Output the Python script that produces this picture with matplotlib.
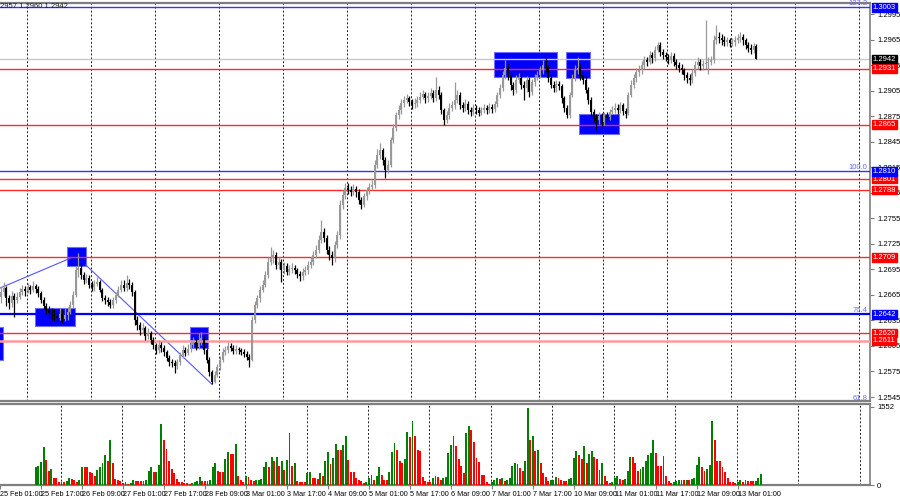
import numpy as np
import matplotlib.pyplot as plt
from matplotlib.patches import Rectangle
from matplotlib.transforms import blended_transform_factory

plt.rcParams['font.family'] = ['Liberation Sans', 'DejaVu Sans']

# GBPUSD H1, 25 Feb 15:00 .. 13 Mar 10:00 (open of each bar = previous close)
first_open = 1.2662
closes = [
    1.2668, 1.2673, 1.2661, 1.2655, 1.2664, 1.2659, 1.2663, 1.2668, 1.2672, 1.2670,
    1.2674, 1.2671, 1.2675, 1.2672, 1.2667, 1.2659, 1.2652, 1.2647, 1.2644, 1.2641,
    1.2640, 1.2638, 1.2643, 1.2637, 1.2641, 1.2645, 1.2653, 1.2665, 1.2694, 1.2697,
    1.2688, 1.2683, 1.2685, 1.2677, 1.2674, 1.2678, 1.2680, 1.2671, 1.2661, 1.2659,
    1.2657, 1.2653, 1.2659, 1.2665, 1.2671, 1.2677, 1.2673, 1.2679, 1.2677, 1.2668,
    1.2636, 1.2630, 1.2624, 1.2626, 1.2617, 1.2620, 1.2612, 1.2606, 1.2600, 1.2606,
    1.2603, 1.2598, 1.2591, 1.2586, 1.2585, 1.2581, 1.2586, 1.2594, 1.2600, 1.2597,
    1.2601, 1.2606, 1.2610, 1.2604, 1.2612, 1.2614, 1.2600, 1.2589, 1.2574, 1.2563,
    1.2571, 1.2580, 1.2589, 1.2598, 1.2600, 1.2605, 1.2603, 1.2599, 1.2601, 1.2600,
    1.2598, 1.2596, 1.2592, 1.2589, 1.2636, 1.2653, 1.2661, 1.2671, 1.2677, 1.2688,
    1.2704, 1.2708, 1.2712, 1.2700, 1.2704, 1.2694, 1.2699, 1.2692, 1.2695, 1.2697,
    1.2694, 1.2690, 1.2687, 1.2692, 1.2694, 1.2700, 1.2704, 1.2712, 1.2718, 1.2730,
    1.2739, 1.2732, 1.2718, 1.2712, 1.2708, 1.2724, 1.2735, 1.2771, 1.2782, 1.2791,
    1.2788, 1.2786, 1.2789, 1.2786, 1.2777, 1.2771, 1.2781, 1.2788, 1.2792, 1.2794,
    1.2818, 1.2829, 1.2835, 1.2824, 1.2812, 1.2818, 1.2847, 1.2861, 1.2876, 1.2882,
    1.2890, 1.2894, 1.2896, 1.2892, 1.2889, 1.2890, 1.2894, 1.2898, 1.2901, 1.2896,
    1.2899, 1.2902, 1.2896, 1.2906, 1.2900, 1.2882, 1.2871, 1.2876, 1.2885, 1.2888,
    1.2894, 1.2900, 1.2888, 1.2885, 1.2889, 1.2882, 1.2880, 1.2885, 1.2882, 1.2879,
    1.2882, 1.2885, 1.2882, 1.2886, 1.2883, 1.2889, 1.2900, 1.2908, 1.2923, 1.2932,
    1.2923, 1.2912, 1.2906, 1.2918, 1.2920, 1.2912, 1.2908, 1.2918, 1.2903, 1.2915,
    1.2920, 1.2923, 1.2929, 1.2935, 1.2932, 1.2920, 1.2912, 1.2908, 1.2913, 1.2910,
    1.2896, 1.2885, 1.2876, 1.2900, 1.2920, 1.2929, 1.2932, 1.2923, 1.2918, 1.2906,
    1.2894, 1.2880, 1.2873, 1.2871, 1.2875, 1.2868, 1.2876, 1.2874, 1.2880, 1.2882,
    1.2885, 1.2882, 1.2888, 1.2881, 1.2878, 1.2900, 1.2912, 1.2920, 1.2927, 1.2929,
    1.2935, 1.2941, 1.2939, 1.2947, 1.2943, 1.2953, 1.2959, 1.2950, 1.2947, 1.2945,
    1.2941, 1.2946, 1.2939, 1.2935, 1.2932, 1.2929, 1.2923, 1.2920, 1.2918, 1.2926,
    1.2935, 1.2939, 1.2934, 1.2936, 1.2937, 1.2939, 1.2941, 1.2964, 1.2968, 1.2967,
    1.2964, 1.2962, 1.2964, 1.2961, 1.2962, 1.2964, 1.2967, 1.2968, 1.2964, 1.2959,
    1.2955, 1.2953, 1.2957, 1.2942,
]
highs = [
    1.2675, 1.2680, 1.2676, 1.2665, 1.2669, 1.2667, 1.2668, 1.2673, 1.2677, 1.2676,
    1.2679, 1.2677, 1.2681, 1.2678, 1.2675, 1.2669, 1.2662, 1.2655, 1.2652, 1.2650,
    1.2648, 1.2645, 1.2650, 1.2648, 1.2649, 1.2651, 1.2658, 1.2669, 1.2699, 1.2714,
    1.2702, 1.2692, 1.2690, 1.2688, 1.2681, 1.2683, 1.2686, 1.2683, 1.2673, 1.2665,
    1.2663, 1.2660, 1.2663, 1.2668, 1.2675, 1.2682, 1.2683, 1.2688, 1.2684, 1.2680,
    1.2671, 1.2640, 1.2633, 1.2632, 1.2629, 1.2626, 1.2623, 1.2615, 1.2609, 1.2612,
    1.2610, 1.2606, 1.2600, 1.2594, 1.2590, 1.2588, 1.2590, 1.2598, 1.2606, 1.2604,
    1.2607, 1.2611, 1.2615, 1.2613, 1.2620, 1.2621, 1.2617, 1.2603, 1.2592, 1.2577,
    1.2575, 1.2584, 1.2593, 1.2602, 1.2605, 1.2610, 1.2609, 1.2606, 1.2606, 1.2604,
    1.2603, 1.2601, 1.2599, 1.2595, 1.2640, 1.2658, 1.2665, 1.2676, 1.2682, 1.2693,
    1.2709, 1.2721, 1.2718, 1.2715, 1.2709, 1.2707, 1.2704, 1.2702, 1.2700, 1.2702,
    1.2700, 1.2697, 1.2693, 1.2697, 1.2699, 1.2705, 1.2710, 1.2716, 1.2724, 1.2735,
    1.2753, 1.2744, 1.2735, 1.2722, 1.2716, 1.2728, 1.2740, 1.2776, 1.2788, 1.2797,
    1.2796, 1.2793, 1.2795, 1.2793, 1.2789, 1.2780, 1.2785, 1.2792, 1.2797, 1.2800,
    1.2823, 1.2836, 1.2843, 1.2838, 1.2827, 1.2824, 1.2851, 1.2866, 1.2880, 1.2888,
    1.2895, 1.2899, 1.2901, 1.2899, 1.2895, 1.2896, 1.2899, 1.2903, 1.2906, 1.2904,
    1.2904, 1.2908, 1.2906, 1.2921, 1.2910, 1.2903, 1.2885, 1.2881, 1.2890, 1.2893,
    1.2915, 1.2906, 1.2903, 1.2892, 1.2895, 1.2893, 1.2886, 1.2889, 1.2888, 1.2886,
    1.2886, 1.2889, 1.2888, 1.2890, 1.2889, 1.2893, 1.2904, 1.2913, 1.2928, 1.2941,
    1.2936, 1.2927, 1.2915, 1.2923, 1.2926, 1.2924, 1.2916, 1.2922, 1.2921, 1.2919,
    1.2924, 1.2928, 1.2934, 1.2941, 1.2943, 1.2935, 1.2923, 1.2916, 1.2917, 1.2916,
    1.2913, 1.2899, 1.2888, 1.2904, 1.2925, 1.2935, 1.2944, 1.2936, 1.2927, 1.2921,
    1.2909, 1.2897, 1.2884, 1.2878, 1.2880, 1.2879, 1.2880, 1.2880, 1.2884, 1.2887,
    1.2890, 1.2889, 1.2892, 1.2891, 1.2885, 1.2904, 1.2917, 1.2925, 1.2932, 1.2935,
    1.2940, 1.2946, 1.2945, 1.2952, 1.2951, 1.2958, 1.2962, 1.2962, 1.2954, 1.2951,
    1.2948, 1.2950, 1.2949, 1.2942, 1.2939, 1.2936, 1.2932, 1.2927, 1.2925, 1.2930,
    1.2940, 1.2944, 1.2942, 1.2941, 1.2988, 1.2944, 1.2946, 1.2970, 1.2982, 1.2974,
    1.2972, 1.2969, 1.2968, 1.2967, 1.2967, 1.2969, 1.2972, 1.2974, 1.2971, 1.2967,
    1.2962, 1.2960, 1.2961, 1.2960,
]
lows = [
    1.2655, 1.2664, 1.2652, 1.2648, 1.2651, 1.2639, 1.2655, 1.2660, 1.2665, 1.2664,
    1.2667, 1.2666, 1.2668, 1.2667, 1.2662, 1.2655, 1.2648, 1.2642, 1.2638, 1.2635,
    1.2634, 1.2633, 1.2635, 1.2632, 1.2634, 1.2636, 1.2642, 1.2650, 1.2662, 1.2686,
    1.2684, 1.2678, 1.2679, 1.2673, 1.2669, 1.2670, 1.2675, 1.2668, 1.2658, 1.2654,
    1.2652, 1.2649, 1.2650, 1.2656, 1.2662, 1.2668, 1.2669, 1.2670, 1.2672, 1.2664,
    1.2630, 1.2624, 1.2618, 1.2620, 1.2612, 1.2613, 1.2607, 1.2601, 1.2595, 1.2597,
    1.2598, 1.2593, 1.2587, 1.2582, 1.2580, 1.2573, 1.2578, 1.2583, 1.2591, 1.2593,
    1.2594, 1.2598, 1.2603, 1.2600, 1.2601, 1.2606, 1.2596, 1.2585, 1.2570, 1.2560,
    1.2561, 1.2568, 1.2577, 1.2586, 1.2594, 1.2597, 1.2599, 1.2595, 1.2596, 1.2596,
    1.2594, 1.2592, 1.2588, 1.2580, 1.2587, 1.2632, 1.2649, 1.2657, 1.2668, 1.2674,
    1.2685, 1.2700, 1.2703, 1.2695, 1.2696, 1.2680, 1.2690, 1.2688, 1.2688, 1.2691,
    1.2689, 1.2685, 1.2681, 1.2683, 1.2688, 1.2690, 1.2697, 1.2700, 1.2708, 1.2714,
    1.2726, 1.2727, 1.2713, 1.2706, 1.2700, 1.2704, 1.2720, 1.2731, 1.2766, 1.2778,
    1.2783, 1.2781, 1.2782, 1.2780, 1.2772, 1.2766, 1.2768, 1.2777, 1.2784, 1.2788,
    1.2791, 1.2814, 1.2825, 1.2818, 1.2802, 1.2808, 1.2815, 1.2843, 1.2857, 1.2872,
    1.2877, 1.2886, 1.2890, 1.2887, 1.2884, 1.2885, 1.2886, 1.2890, 1.2895, 1.2891,
    1.2892, 1.2895, 1.2892, 1.2893, 1.2895, 1.2877, 1.2865, 1.2867, 1.2872, 1.2881,
    1.2884, 1.2890, 1.2884, 1.2880, 1.2881, 1.2877, 1.2875, 1.2876, 1.2878, 1.2875,
    1.2876, 1.2879, 1.2878, 1.2879, 1.2879, 1.2880, 1.2886, 1.2896, 1.2905, 1.2919,
    1.2918, 1.2906, 1.2900, 1.2902, 1.2914, 1.2907, 1.2894, 1.2904, 1.2898, 1.2900,
    1.2911, 1.2917, 1.2920, 1.2925, 1.2927, 1.2915, 1.2908, 1.2904, 1.2904, 1.2906,
    1.2891, 1.2880, 1.2873, 1.2873, 1.2897, 1.2916, 1.2925, 1.2918, 1.2913, 1.2902,
    1.2889, 1.2875, 1.2868, 1.2859, 1.2866, 1.2863, 1.2865, 1.2869, 1.2871, 1.2877,
    1.2879, 1.2878, 1.2879, 1.2876, 1.2873, 1.2876, 1.2897, 1.2908, 1.2915, 1.2922,
    1.2925, 1.2931, 1.2934, 1.2936, 1.2938, 1.2940, 1.2950, 1.2946, 1.2942, 1.2940,
    1.2936, 1.2937, 1.2934, 1.2930, 1.2927, 1.2924, 1.2918, 1.2914, 1.2912, 1.2914,
    1.2922, 1.2930, 1.2929, 1.2929, 1.2931, 1.2925, 1.2935, 1.2938, 1.2960, 1.2961,
    1.2959, 1.2957, 1.2958, 1.2956, 1.2957, 1.2958, 1.2961, 1.2962, 1.2959, 1.2954,
    1.2950, 1.2948, 1.2949, 1.2942,
]
volumes = [
    353, 386, 466, 753, 500, 286, 320, 140, 133, 53,
    66, 66, 73, 140, 120, 107, 66, 107,
    366, 353, 353, 266, 233, 186, 300, 366, 433, 600, 486,
    886,
    440, 120, 100, 86, 33, 53, 20,
    33, 100, 86, 86, 86, 86, 100, 286, 366, 253, 260, 406, 1205,
    886, 720, 486, 320, 233, 120, 66, 53, 33,
    33, 20, 40,
    53, 86, 153, 86, 73, 86, 100, 366, 433, 286, 266, 253, 520, 653, 620, 620,
    820,
    186, 100, 53,
    186, 166, 100, 86, 100, 107, 120, 353, 453, 353, 553, 486, 566, 380, 486, 300, 500,
    1040,
    386, 433, 86, 66, 53, 53, 233, 253, 140, 133, 120, 233, 186,
    486, 653, 420, 533, 820, 686, 686, 786, 966, 500, 266, 253, 140,
    100, 86, 40, 66, 133, 200,
    100, 186, 353, 206, 100, 100, 253, 653, 840, 700, 473, 433, 520, 1052, 953, 1272,
    966, 686, 673, 153, 86, 66, 66,
    140, 186, 153, 100, 140, 166, 633, 800, 966, 766, 520, 386, 233,
    1033, 1165, 1086, 853, 540, 453, 206, 206, 53, 20,
    53, 100, 140, 113, 140, 73, 107, 140, 373, 433, 420, 340, 273, 473,
    1538,
    886, 966, 673, 686, 433, 233, 153, 86, 100, 107, 153, 140, 107, 86, 86, 120, 140,
    540, 673, 600, 520, 766, 440, 620, 666, 566, 520, 300, 440, 173, 86, 33,
    66, 140, 186, 113, 107, 113, 273, 553, 553, 433, 286,
    320, 353, 486, 600, 640, 900, 640, 386, 373, 586, 186, 73, 33,
    66, 73, 107, 100, 93, 107, 100, 120, 140, 406, 566, 353, 286, 320, 400,
    1272,
    886, 473, 473, 353, 253, 140, 53, 53, 40, 53, 100,
    53, 100, 86, 73, 73, 86, 140, 220,
]

time_labels = ["25 Feb 01:00", "25 Feb 17:00", "26 Feb 09:00", "27 Feb 01:00", "27 Feb 17:00",
               "28 Feb 09:00", "3 Mar 01:00", "3 Mar 17:00", "4 Mar 09:00", "5 Mar 01:00",
               "5 Mar 17:00", "6 Mar 09:00", "7 Mar 01:00", "7 Mar 17:00", "10 Mar 09:00",
               "11 Mar 01:00", "11 Mar 17:00", "12 Mar 09:00", "13 Mar 01:00"]
time_label_bars = [-14, 2, 18, 34, 50, 66, 82, 98, 114, 130, 146, 162, 178, 194, 210, 226, 242, 258, 274]

# horizontal levels
red_levels = [1.2931, 1.2865, 1.2801, 1.2788, 1.2709, 1.2620]
pink_levels = [1.2611]
blue_levels = [1.3003, 1.2810, 1.2642]
fibo_text = [(1.3003, "127.2"), (1.2810, "100.0"), (1.2642, "76.4"), (1.2539, "61.8")]
last_price = 1.2942

# blue zones: bar from, bar to, price low, price high
zones = [(-2, 0.8, 1.2588, 1.2627), (12.7, 27.7, 1.2628, 1.2649), (24.7, 31.9, 1.2699, 1.2721),
         (70.8, 77.6, 1.2603, 1.2627), (184.7, 208.3, 1.2921, 1.2950),
         (211.7, 220.7, 1.2920, 1.2950), (216.6, 231.6, 1.2854, 1.2877)]
# trend lines: (bar, price) -> (bar, price)
trend_lines = [((-0.4, 1.2673), (25.9, 1.2708)), ((31.8, 1.2700), (79.0, 1.2560))]

closes = np.array(closes)
highs = np.array(highs)
lows = np.array(lows)
opens = np.concatenate([[first_open], closes[:-1]])
vol = np.array(volumes)
idx = np.arange(len(closes))

fig = plt.figure(figsize=(9, 5), dpi=100)
ax = fig.add_axes([0, 0.198, 0.9667, 0.796])
axv = fig.add_axes([0, 0.03, 0.9667, 0.162])

xmin, xmax = -0.4, 325.6
grid_x = np.arange(9.75, xmax, 23.98)

for a in (ax, axv):
    a.set_xlim(xmin, xmax)
    a.spines['left'].set_visible(False)
    for s in ('top', 'bottom', 'right'):
        a.spines[s].set_color('#7f7f7f')
    a.spines['top'].set_linewidth(1.6)
    a.spines['bottom'].set_linewidth(1.6)
    a.spines['right'].set_linewidth(1.2)
    for gx in grid_x:
        a.axvline(gx, color='#202020', lw=0.7, ls=(0, (2, 2)), zorder=1)
    a.yaxis.tick_right()
    a.tick_params(axis='y', labelsize=5.5, length=3, width=0.8, color='#7f7f7f', pad=2)

# main panel
ax.set_ylim(1.25403, 1.30080)
yt = np.arange(1.2545, 1.3000, 0.0030)
ax.set_yticks(yt)
ax.set_yticklabels(['%.4f' % v for v in yt])
ax.set_xticks([])

for x0, x1, p0, p1 in zones:
    ax.add_patch(Rectangle((x0, p0), x1 - x0, p1 - p0, facecolor='#0000ff',
                           edgecolor='#6f6fff', lw=0.8, zorder=2))
for (xa, pa), (xb, pb) in trend_lines:
    ax.plot([xa, xb], [pa, pb], color='#5555ff', lw=0.8, zorder=3)

for p in red_levels:
    ax.axhline(p, color='#ff2a2a', lw=1.0, zorder=3)
for p in pink_levels:
    ax.axhline(p, color='#ff9a9a', lw=1.8, zorder=3)
ax.axhline(blue_levels[0], color='#3333ff', lw=1.0, zorder=3)
ax.axhline(blue_levels[1], color='#3333ff', lw=1.0, zorder=3)
ax.axhline(blue_levels[2], color='#0000ff', lw=1.6, zorder=3)
ax.axhline(last_price, color='#c8c8c8', lw=1.0, zorder=2)

up = closes >= opens
cols = np.where(up, '#999999', '#000000')
ax.vlines(idx, lows, highs, colors=cols, lw=0.9, zorder=4)
body_lo = np.minimum(opens, closes)
body_h = np.maximum(np.abs(closes - opens), 0.00006)
ax.bar(idx, body_h, width=0.75, bottom=body_lo, color=cols, lw=0, zorder=5)

trans = blended_transform_factory(ax.transAxes, ax.transData)
for p, t in fibo_text:
    ax.text(0.997, p + 0.00004, t, transform=trans, ha='right', va='bottom',
            fontsize=5.5, color='#6b6bff', zorder=6)


def tag(price, face):
    ax.text(1.003, price, '%.4f' % price, transform=trans, ha='left', va='center',
            fontsize=5.5, color='white', clip_on=False, zorder=10,
            bbox=dict(boxstyle='square,pad=0.1', fc=face, ec=face))


for p in red_levels + pink_levels:
    tag(p, '#ff0000')
for p in blue_levels:
    tag(p, '#0000ff')
tag(last_price, '#000000')

fig.text(0.0, 0.988, '2957 1.2960 1.2942', fontsize=5.5, color='#202020', va='center')

# volume panel
vcols = ['#008000'] + ['#008000' if vol[i] > vol[i - 1] else '#ff0000' for i in range(1, len(vol))]
axv.bar(idx, vol, width=0.75, color=vcols, lw=0, zorder=3)
axv.set_ylim(0, 1610)
axv.set_yticks([0, 1552])
axv.set_yticklabels(['0', '1552'])
axv.set_xticks(time_label_bars)
axv.set_xticklabels(time_labels, ha='left')
axv.tick_params(axis='x', labelsize=5.2, length=3, width=0.8, color='#7f7f7f', pad=1)

fig.savefig('out.png', dpi=100, facecolor='white')
